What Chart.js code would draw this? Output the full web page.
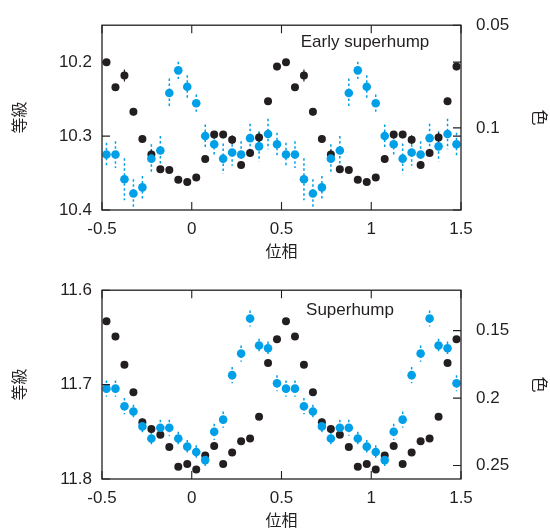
<!DOCTYPE html>
<html><head><meta charset="utf-8">
<script src="https://cdn.jsdelivr.net/npm/chart.js@4.4.1/dist/chart.umd.min.js"></script>
<style>
html,body{margin:0;padding:0;background:#fff;}
#wrap{position:relative;width:550px;height:530px;}
canvas{position:absolute;left:0;}
#c1{top:0}
#c2{top:265px}
</style></head><body>
<div id="wrap"><canvas id="c1" width="550" height="265"></canvas><canvas id="c2" width="550" height="265"></canvas></div>
<script>
// ---- data ----
const phases = [-0.475,-0.425,-0.375,-0.325,-0.275,-0.225,-0.175,-0.125,-0.075,-0.025,
                 0.025, 0.075, 0.125, 0.175, 0.225, 0.275, 0.325, 0.375, 0.425, 0.475,
                 0.525, 0.575, 0.625, 0.675, 0.725, 0.775, 0.825, 0.875, 0.925, 0.975,
                 1.025, 1.075, 1.125, 1.175, 1.225, 1.275, 1.325, 1.375, 1.425, 1.475];

const earlyMag = [10.200,10.234,10.218,10.267,10.304,10.325,10.345,10.346,10.359,10.362,
                  10.356,10.331,10.298,10.298,10.305,10.339,10.323,10.302,10.253,10.206,
                  10.200,10.234,10.218,10.267,10.304,10.325,10.345,10.346,10.359,10.362,
                  10.356,10.331,10.298,10.298,10.305,10.339,10.323,10.302,10.253,10.206];
const earlyMagErr = [0.004,0.004,0.008,0.005,0.005,0.007,0.004,0.004,0.004,0.004,
                     0.004,0.005,0.005,0.005,0.006,0.005,0.005,0.007,0.005,0.005,
                     0.004,0.004,0.008,0.005,0.005,0.007,0.004,0.004,0.004,0.004,
                     0.004,0.005,0.005,0.005,0.006,0.005,0.005,0.007,0.005,0.005];
const earlyColor = [0.113,0.113,0.125,0.132,0.129,0.115,0.111,0.083,0.072,0.080,
                    0.088,0.104,0.108,0.115,0.112,0.113,0.105,0.109,0.103,0.108,
                    0.113,0.113,0.125,0.132,0.129,0.115,0.111,0.083,0.072,0.080,
                    0.088,0.104,0.108,0.115,0.112,0.113,0.105,0.109,0.103,0.108];
const earlyColorErr = [0.0058,0.0065,0.0102,0.0070,0.0056,0.0070,0.0070,0.0070,0.0042,0.0056,
                       0.0042,0.0056,0.0060,0.0074,0.0065,0.0065,0.0070,0.0074,0.0074,0.0056,
                       0.0058,0.0065,0.0102,0.0070,0.0056,0.0070,0.0070,0.0070,0.0042,0.0056,
                       0.0042,0.0056,0.0060,0.0074,0.0065,0.0065,0.0070,0.0074,0.0074,0.0056];

const superMag = [11.633,11.649,11.679,11.708,11.740,11.747,11.753,11.766,11.787,11.784,
                  11.790,11.775,11.765,11.784,11.772,11.760,11.757,11.734,11.677,11.652,
                  11.633,11.649,11.679,11.708,11.740,11.747,11.753,11.766,11.787,11.784,
                  11.790,11.775,11.765,11.784,11.772,11.760,11.757,11.734,11.677,11.652];
const superMagErr = [0.003,0.003,0.003,0.003,0.004,0.003,0.003,0.003,0.003,0.003,
                     0.003,0.003,0.003,0.003,0.003,0.003,0.003,0.003,0.003,0.003,
                     0.003,0.003,0.003,0.003,0.004,0.003,0.003,0.003,0.003,0.003,
                     0.003,0.003,0.003,0.003,0.003,0.003,0.003,0.003,0.003,0.003];
const superColor = [0.193,0.193,0.206,0.210,0.221,0.230,0.222,0.222,0.230,0.236,
                    0.240,0.246,0.225,0.216,0.183,0.167,0.141,0.161,0.163,0.189,
                    0.193,0.193,0.206,0.210,0.221,0.230,0.222,0.222,0.230,0.236,
                    0.240,0.246,0.225,0.216,0.183,0.167,0.141,0.161,0.163,0.189];
const superColorErr = [0.006,0.006,0.006,0.005,0.005,0.005,0.006,0.006,0.005,0.005,
                       0.005,0.005,0.006,0.006,0.006,0.006,0.006,0.005,0.005,0.006,
                       0.006,0.006,0.006,0.005,0.005,0.005,0.006,0.006,0.005,0.005,
                       0.005,0.005,0.006,0.006,0.006,0.006,0.006,0.005,0.005,0.006];

const xTicks = [-0.5, 0, 0.5, 1, 1.5];
const xTickLabels = ['-0.5', '0', '0.5', '1', '1.5'];
const earlyMagTicks = [10.2, 10.3, 10.4];
const earlyMagTickLabels = ['10.2', '10.3', '10.4'];
const earlyColorTicks = [0.05, 0.1];
const earlyColorTickLabels = ['0.05', '0.1'];
const superMagTicks = [11.6, 11.7, 11.8];
const superMagTickLabels = ['11.6', '11.7', '11.8'];
const superColorTicks = [0.15, 0.2, 0.25];
const superColorTickLabels = ['0.15', '0.2', '0.25'];

const magTitle = '等級';
const colorTitle = '色';
const phaseTitle = '位相';

// ---- style ----
const INK = '#231f20';
const CYAN = '#00a0e9';
const tickFont = {family: '"Liberation Sans", Arial, sans-serif', size: 17};
const cjkFont = {family: '"Noto Sans CJK JP", sans-serif', size: 16};

const framePlugin = {
  id: 'frame',
  beforeDatasetsDraw(chart) {
    const ctx = chart.ctx, xs = chart.scales.x, a = chart.chartArea;
    ctx.save();
    ctx.beginPath(); ctx.rect(a.left, a.top, a.right - a.left, a.bottom - a.top); ctx.clip();
    chart.data.datasets.forEach(ds => {
      const ys = chart.scales[ds.yAxisID];
      ctx.save();
      ctx.strokeStyle = ds.errColor; ctx.lineWidth = ds.errWidth; ctx.setLineDash(ds.errDash);
      ds.data.forEach((p, i) => {
        const e = ds.errors[i];
        const px = xs.getPixelForValue(p.x);
        ctx.beginPath();
        ctx.moveTo(px, ys.getPixelForValue(p.y - e));
        ctx.lineTo(px, ys.getPixelForValue(p.y + e));
        ctx.stroke();
      });
      ctx.restore();
    });
    ctx.restore();
  },
  afterDatasetsDraw(chart, args, opts) {
    const ctx = chart.ctx, a = chart.chartArea, TL = 8;
    ctx.save();
    ctx.strokeStyle = INK; ctx.lineWidth = 1.3; ctx.setLineDash([]);
    ctx.strokeRect(a.left, a.top, a.right - a.left, a.bottom - a.top);
    ctx.lineWidth = 1.1;
    ctx.beginPath();
    chart.scales.x.ticks.forEach(t => {
      const px = chart.scales.x.getPixelForValue(t.value);
      ctx.moveTo(px, a.bottom); ctx.lineTo(px, a.bottom - TL);
      ctx.moveTo(px, a.top); ctx.lineTo(px, a.top + TL);
    });
    chart.scales.yMag.ticks.forEach(t => {
      const py = chart.scales.yMag.getPixelForValue(t.value);
      ctx.moveTo(a.left, py); ctx.lineTo(a.left + TL, py);
      if (opts.mirrorLeft) { ctx.moveTo(a.right, py); ctx.lineTo(a.right - TL, py); }
    });
    chart.scales.yCol.ticks.forEach(t => {
      const py = chart.scales.yCol.getPixelForValue(t.value);
      ctx.moveTo(a.right, py); ctx.lineTo(a.right - TL, py);
    });
    ctx.stroke();
    ctx.fillStyle = INK;
    ctx.font = '17px "Liberation Sans", Arial, sans-serif';
    ctx.textAlign = 'center'; ctx.textBaseline = 'middle';
    ctx.fillText(opts.label, a.left + opts.labelDx, a.top + opts.labelDy);
    ctx.restore();
  }
};

function makeChart(id, cfg) {
  const ds = (vals, errs, color, axis, radius, dash, width) => ({
    data: phases.map((x, i) => ({x: x, y: vals[i]})),
    yAxisID: axis,
    backgroundColor: color,
    borderColor: color,
    borderWidth: 0,
    pointRadius: radius,
    pointHoverRadius: radius,
    showLine: false,
    errors: errs, errColor: color, errDash: dash, errWidth: width
  });
  return new Chart(document.getElementById(id), {
    type: 'scatter',
    data: {
      datasets: [
        ds(cfg.color, cfg.colorErr, CYAN, 'yCol', 4.3, [2.5, 2.5], 1.5),
        ds(cfg.mag, cfg.magErr, INK, 'yMag', 4.0, [], 1.2)
      ]
    },
    options: {
      responsive: false,
      animation: false,
      events: [],
      layout: {padding: {top: cfg.padTop, bottom: 0, left: 0, right: 0}},
      plugins: {
        legend: {display: false},
        tooltip: {enabled: false},
        frame: {label: cfg.label, labelDx: cfg.labelDx, labelDy: cfg.labelDy, mirrorLeft: cfg.mirrorLeft}
      },
      scales: {
        x: {
          type: 'linear', min: -0.5, max: 1.5,
          afterBuildTicks: s => { s.ticks = xTicks.map(v => ({value: v})); },
          afterFit: s => { s.height = cfg.xHeight; },
          grid: {display: false, drawTicks: false, tickLength: 0},
          border: {display: false},
          ticks: {font: tickFont, color: INK, padding: 9, maxRotation: 0,
                  callback: (v, i) => xTickLabels[i]},
          title: {display: true, text: phaseTitle, font: cjkFont, color: INK,
                  padding: {top: 0, bottom: cfg.xTitlePad}}
        },
        yMag: {
          type: 'linear', position: 'left', reverse: true, min: cfg.magMin, max: cfg.magMax,
          afterBuildTicks: s => { s.ticks = cfg.magTicks.map(v => ({value: v})); },
          afterFit: s => { s.width = 102; },
          grid: {display: false, drawTicks: false, tickLength: 0},
          border: {display: false},
          ticks: {font: tickFont, color: INK, padding: 10,
                  callback: (v, i) => cfg.magTickLabels[i]},
          title: {display: true, text: magTitle, font: cjkFont, color: INK,
                  padding: {top: 9, bottom: 0}}
        },
        yCol: {
          type: 'linear', position: 'right', reverse: true, min: cfg.colMin, max: cfg.colMax,
          afterBuildTicks: s => { s.ticks = cfg.colTicks.map(v => ({value: v})); },
          afterFit: s => { s.width = 89; },
          grid: {display: false, drawTicks: false, tickLength: 0},
          border: {display: false},
          ticks: {font: tickFont, color: INK, padding: 15,
                  callback: (v, i) => cfg.colTickLabels[i]},
          title: {display: true, text: colorTitle, font: cjkFont, color: INK,
                  padding: {top: 0, bottom: 0}}
        }
      }
    },
    plugins: [framePlugin]
  });
}

makeChart('c1', {
  mag: earlyMag, magErr: earlyMagErr, color: earlyColor, colorErr: earlyColorErr,
  magMin: 10.15, magMax: 10.4, colMin: 0.05, colMax: 0.14,
  magTicks: earlyMagTicks, magTickLabels: earlyMagTickLabels,
  colTicks: earlyColorTicks, colTickLabels: earlyColorTickLabels,
  padTop: 16, xHeight: 55, xTitlePad: 4,
  label: 'Early superhump', labelDx: 263, labelDy: 17, mirrorLeft: true
});
makeChart('c2', {
  mag: superMag, magErr: superMagErr, color: superColor, colorErr: superColorErr,
  magMin: 11.6, magMax: 11.8, colMin: 0.12, colMax: 0.26,
  magTicks: superMagTicks, magTickLabels: superMagTickLabels,
  colTicks: superColorTicks, colTickLabels: superColorTickLabels,
  padTop: 21, xHeight: 51, xTitlePad: 0,
  label: 'Superhump', labelDx: 248, labelDy: 20, mirrorLeft: false
});
</script>
</body></html>
